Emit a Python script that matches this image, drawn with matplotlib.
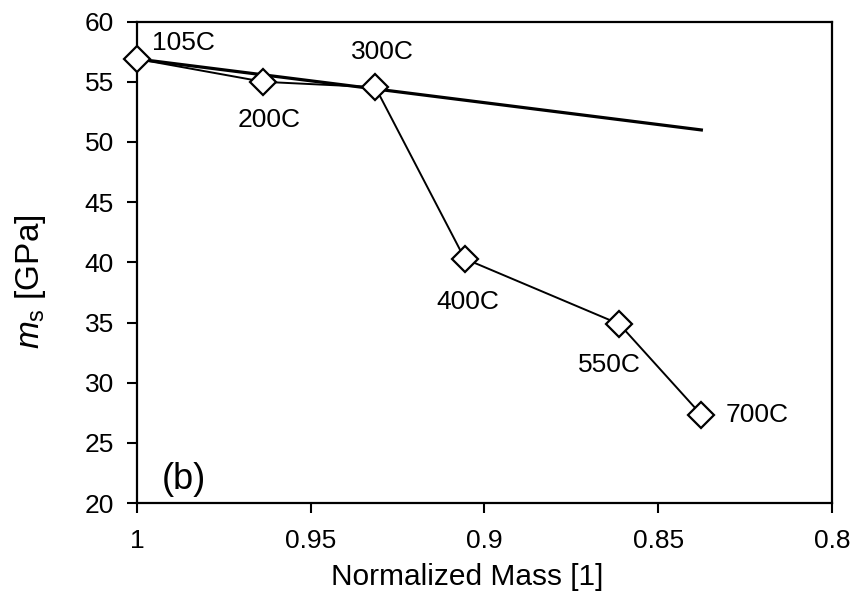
import matplotlib
matplotlib.use('Agg')
import matplotlib.pyplot as plt

# data
mass = [1.0, 0.9636, 0.9314, 0.9057, 0.8612, 0.8376]
ms_gpa = [56.9, 55.0, 54.55, 40.3, 34.87, 27.33]
temps = ['105C', '200C', '300C', '400C', '550C', '700C']

# straight reference line
fit_x = [1.0, 0.8376]
fit_y = [56.9, 51.0]

xticks = [1, 0.95, 0.9, 0.85, 0.8]
xtick_labels = ['1', '0.95', '0.9', '0.85', '0.8']
yticks = [20, 25, 30, 35, 40, 45, 50, 55, 60]

plt.rcParams['font.family'] = ['Liberation Sans', 'DejaVu Sans']
plt.rcParams['mathtext.fontset'] = 'custom'
plt.rcParams['mathtext.it'] = 'Liberation Sans:italic'
plt.rcParams['mathtext.rm'] = 'Liberation Sans'

fig = plt.figure(figsize=(8.56, 6.01), dpi=100)
ax = fig.add_axes([0.160, 0.163, 0.812, 0.801])

ax.plot(fit_x, fit_y, color='black', lw=2.3, zorder=2, clip_on=False)
ax.plot(mass, ms_gpa, color='black', lw=1.4, marker='D', ms=13.5,
        mfc='white', mec='black', mew=1.6, zorder=3, clip_on=False)

# label offsets in pixels (dx, dy, ha), dy positive = down
offsets = [(15, 16, 'left'), (6, -38, 'center'), (7, 35, 'center'),
           (3, -43, 'center'), (-10, -41, 'center'), (24, 0, 'left')]
for x, y, t, (dx, dy, ha) in zip(mass, ms_gpa, temps, offsets):
    ax.annotate(t, (x, y), xytext=(dx, dy), textcoords='offset pixels',
                ha=ha, va='center', fontsize=19)

ax.text(0.036, 0.049, '(b)', transform=ax.transAxes, fontsize=26,
        ha='left', va='center')

ax.set_xlim(1, 0.8)
ax.set_ylim(20, 60)
ax.set_xticks(xticks)
ax.set_xticklabels(xtick_labels)
ax.set_yticks(yticks)
ax.tick_params(direction='out', length=7.5, width=1.5, labelsize=19)
ax.tick_params(axis='x', pad=11)
ax.tick_params(axis='y', pad=9)

for s in ax.spines.values():
    s.set_linewidth(1.6)

ax.set_xlabel('Normalized Mass [1]', fontsize=21.5, va='center')
ax.xaxis.set_label_coords(0.475, -0.154)
ax.set_ylabel(r'$m_\mathrm{s}$ [GPa]', fontsize=24, va='center', ha='center')
ax.yaxis.set_label_coords(-0.153, 0.459)

fig.savefig('out.png', dpi=100)
